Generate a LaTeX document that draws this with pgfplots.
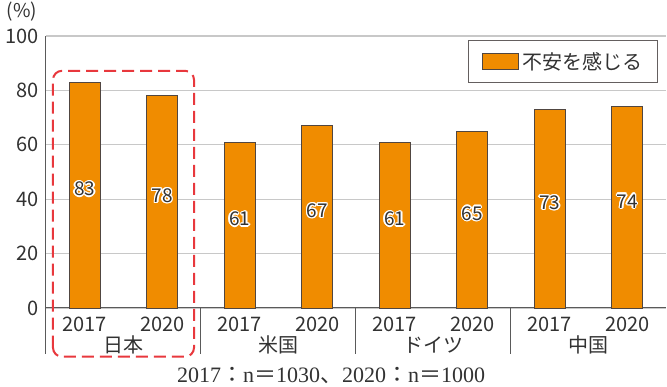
\documentclass[border=0pt]{standalone}
\usepackage{fontspec}
\setmainfont{Noto Sans CJK JP}
\newfontfamily\serifjp{Liberation Serif}
\newfontfamily\cjk{Noto Sans CJK JP}
\usepackage{pgfplots}
\usepackage{pgfplotstable}
\pgfplotsset{compat=1.18}
\usepackage[copies]{contour}
\contourlength{1.3pt}
\contournumber{12}
\definecolor{barorange}{RGB}{240,140,0}
\definecolor{bardark}{RGB}{80,70,65}
\definecolor{gridgray}{RGB}{200,200,200}
\definecolor{axisgray}{RGB}{90,90,90}
\definecolor{textgray}{RGB}{50,50,50}
\definecolor{redbox}{RGB}{232,56,61}
\definecolor{legendgray}{RGB}{100,95,95}
\pgfplotstableread{
x v
0 83
1 78
2 61
3 67
4 61
5 65
6 73
7 74
}\datatable
\begin{document}
\begin{tikzpicture}
\useasboundingbox (-46pt,-79pt) rectangle (621pt,308pt);
\begin{axis}[
  scale only axis, width=620pt, height=272pt,
  at={(0pt,0pt)}, anchor=south west,
  xmin=-0.5, xmax=7.5, ymin=0, ymax=100,
  ytick={0,20,...,100},
  xtick={0,...,7},
  xticklabels={2017,2020,2017,2020,2017,2020,2017,2020},
  axis x line*=bottom, axis y line*=left,
  ymajorgrids, grid style={gridgray, line width=1.2pt},
  major tick length=0pt,
  tick label style={font=\fontsize{20}{24}\selectfont, text=textgray},
  /pgf/number format/assume math mode=true,
  yticklabel style={anchor=east, xshift=-4pt},
  xticklabel style={anchor=center, yshift=-16pt},
  clip=false,
  axis line style={axisgray, line width=1pt},
  legend style={at={(rel axis cs:1,1)}, anchor=north east, xshift=-8pt, yshift=-4pt,
    draw=legendgray, line width=1pt, font=\fontsize{20}{24}\selectfont, text=textgray,
    inner xsep=13pt, inner ysep=10pt, legend cell align=left},
]
\addplot[ybar, bar width=31pt, fill=barorange, draw=bardark, line width=0.8pt, forget plot]
  table[x=x, y=v]{\datatable};
\addplot[draw=none, mark=none, forget plot, nodes near coords, point meta=explicit symbolic,
  nodes near coords style={anchor=center, font=\fontsize{19}{22}\selectfont, text=textgray},
  nodes near coords={\contour{white}{\pgfplotspointmeta}}]
  table[x=x, y expr=\thisrow{v}/2+2, meta=v]{\datatable};
\addlegendimage{legend image code/.code={\draw[fill=barorange, draw=bardark, line width=0.8pt] (0pt,-8pt) rectangle (36pt,8pt);}}
\addlegendentry{\hspace{2pt}不安を感じる}
% group separators
\draw[axisgray, line width=1pt] (axis cs:-0.5,0) -- ++(0pt,-46pt);
\draw[axisgray, line width=1pt] (axis cs:1.5,0) -- ++(0pt,-46pt);
\draw[axisgray, line width=1pt] (axis cs:3.5,0) -- ++(0pt,-46pt);
\draw[axisgray, line width=1pt] (axis cs:5.5,0) -- ++(0pt,-46pt);
\node[font=\fontsize{20}{24}\selectfont, text=textgray] at (axis cs:0.5,0) [yshift=-37pt] {日本};
\node[font=\fontsize{20}{24}\selectfont, text=textgray] at (axis cs:2.5,0) [yshift=-37pt] {米国};
\node[font=\fontsize{20}{24}\selectfont, text=textgray] at (axis cs:4.5,0) [yshift=-37pt] {ドイツ};
\node[font=\fontsize{20}{24}\selectfont, text=textgray] at (axis cs:6.5,0) [yshift=-37pt] {中国};
% highlight box
\draw[redbox, line width=2pt, dash pattern=on 12pt off 6pt, rounded corners=9pt]
  (axis cs:-0.41,-17.9) rectangle (axis cs:1.41,87.2);
% unit label
\node[font=\fontsize{19}{22}\selectfont, text=textgray] at (rel axis cs:0,1) [xshift=-24pt, yshift=24pt] {(\%)};
% footnote
\node[text=textgray, inner sep=1pt] at (axis cs:3.18,0) [yshift=-67pt]
  {\fontsize{22}{25}\selectfont\serifjp 2017{\cjk\mdseries ：}n{\cjk ＝}1030{\cjk 、}2020{\cjk ：}n{\cjk ＝}1000};
\end{axis}
\end{tikzpicture}
\end{document}
